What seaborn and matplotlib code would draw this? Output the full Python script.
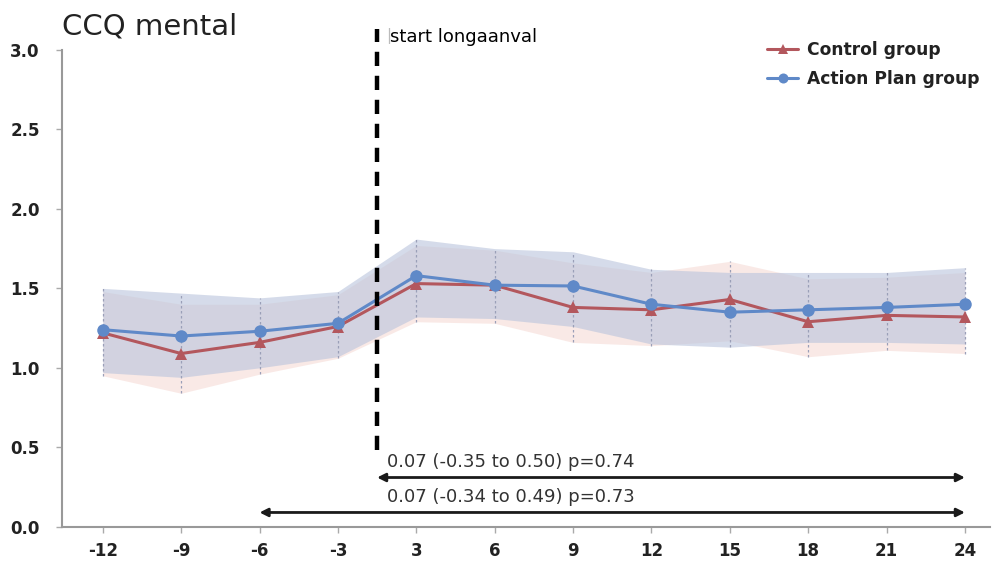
import numpy as np
import pandas as pd
import matplotlib
matplotlib.use("Agg")
import matplotlib.pyplot as plt
import seaborn as sns

# ---- data ----
months = ["-12", "-9", "-6", "-3", "3", "6", "9", "12", "15", "18", "21", "24"]
control_mean = [1.22, 1.09, 1.16, 1.26, 1.53, 1.52, 1.38, 1.365, 1.43, 1.29, 1.33, 1.32]
control_low = [0.95, 0.84, 0.96, 1.06, 1.29, 1.28, 1.16, 1.14, 1.17, 1.07, 1.11, 1.09]
control_high = [1.48, 1.40, 1.40, 1.46, 1.77, 1.74, 1.66, 1.60, 1.67, 1.56, 1.57, 1.60]
action_mean = [1.24, 1.20, 1.23, 1.28, 1.58, 1.52, 1.515, 1.40, 1.35, 1.365, 1.38, 1.40]
action_low = [0.97, 0.94, 1.00, 1.07, 1.32, 1.31, 1.26, 1.15, 1.13, 1.16, 1.16, 1.15]
action_high = [1.50, 1.47, 1.44, 1.48, 1.81, 1.75, 1.73, 1.62, 1.60, 1.60, 1.60, 1.63]
groups = ["Control group", "Action Plan group"]
onset_label = "start longaanval"
onset_pos = 3.5
effect_labels = ["0.07 (-0.35 to 0.50) p=0.74", "0.07 (-0.34 to 0.49) p=0.73"]
effect_start = [3.5, 2]
effect_end = [11, 11]
effect_y = [0.31, 0.09]

sns.set_theme(style="white")
plt.rcParams["font.family"] = ["DejaVu Sans"]

pos = np.arange(len(months))
df = pd.DataFrame({
    "pos": np.concatenate([pos, pos]),
    "value": control_mean + action_mean,
    "group": [groups[0]] * len(months) + [groups[1]] * len(months),
})

red = "#b3575d"
blue = "#5f89c8"

fig, ax = plt.subplots(figsize=(10, 5.61), dpi=100)
fig.subplots_adjust(left=0.062, right=0.99, bottom=0.061, top=0.911)

# CI bands
ax.fill_between(pos, control_low, control_high, color="#f3cfc8", alpha=0.45, lw=0, zorder=1)
ax.fill_between(pos, action_low, action_high, color="#b9c4dc", alpha=0.6, lw=0, zorder=1)

# dotted error lines
lo = np.minimum(control_low, action_low)
hi = np.maximum(control_high, action_high)
ax.vlines(pos, lo, hi, colors="#9a9fb8", linestyles=(0, (2, 2)), lw=0.9, zorder=2)

sns.lineplot(data=df, x="pos", y="value", hue="group", style="group",
             markers={groups[0]: "^", groups[1]: "o"}, dashes=False,
             palette={groups[0]: red, groups[1]: blue},
             markersize=9, markeredgewidth=0, lw=2.2, ax=ax, zorder=3)

# onset line
ax.plot([onset_pos, onset_pos], [0.48, 3.13], color="black", lw=3.2,
        linestyle=(0, (3.2, 2.2)), clip_on=False, zorder=4)
ax.text(onset_pos + 0.11, 3.085, "|", fontsize=11, color="#bbbbbb", va="center", ha="left")
ax.text(onset_pos + 0.17, 3.08, onset_label, fontsize=13, color="black",
        va="center", ha="left", fontweight="medium")

# effect arrows
for lab, s, e, y in zip(effect_labels, effect_start, effect_end, effect_y):
    ax.annotate("", xy=(e, y), xytext=(s, y),
                arrowprops=dict(arrowstyle="<|-|>", color="#1a1a1a", lw=2,
                                mutation_scale=12, shrinkA=0, shrinkB=0))
    ax.text(3.63, y + 0.1, lab, fontsize=13, color="#333333", va="center", ha="left")

ax.set_xlim(-0.52, 11.32)
ax.set_ylim(0, 3.0)
ax.set_xticks(pos)
ax.set_xticklabels(months, fontweight="bold", fontsize=12, color="#222222")
ax.set_yticks([0, 0.5, 1.0, 1.5, 2.0, 2.5, 3.0])
ax.set_yticklabels(["0.0", "0.5", "1.0", "1.5", "2.0", "2.5", "3.0"], fontweight="bold",
                   fontsize=12, color="#222222")
ax.set_xlabel("")
ax.set_ylabel("")
for sp in ["top", "right"]:
    ax.spines[sp].set_visible(False)
for sp in ["left", "bottom"]:
    ax.spines[sp].set_color("#999999")
    ax.spines[sp].set_linewidth(1.5)
ax.tick_params(axis="both", length=4, color="#aaaaaa", direction="out", width=1,
               bottom=True, left=True)
ax.tick_params(axis="x", pad=7)
ax.tick_params(axis="y", pad=12)

ax.set_title("CCQ mental", loc="left", fontsize=21, x=0.0, y=1.015, ha="left", color="#222222")

leg = ax.legend(loc="upper right", bbox_to_anchor=(1.005, 1.05), frameon=False,
                prop={"weight": "bold", "size": 12.3}, handlelength=1.8, handletextpad=0.5,
                labelspacing=0.6, markerscale=0.8)
for t in leg.get_texts():
    t.set_color("#222222")

fig.savefig("out.png", dpi=100)
